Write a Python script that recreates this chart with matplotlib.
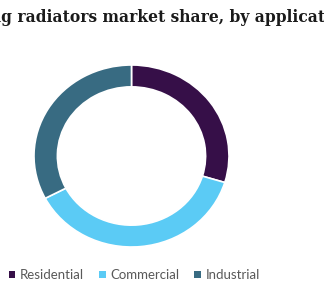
import matplotlib
matplotlib.use("Agg")
import matplotlib.pyplot as plt

# share by application (%)
labels = ["Residential", "Commercial", "Industrial"]
shares = [29.7, 37.6, 32.7]
colors = ["#360F48", "#5BCBF5", "#386B82"]

title = "Heating radiators market share, by application"
title_cut = "Heatin"   # the part that sits left of the visible edge

W, H = 324, 300
fig = plt.figure(figsize=(W / 100, H / 100), dpi=100)
fig.patch.set_facecolor("white")

# ring placement in pixels (reference ring is a touch wider than tall)
cx, cy, rx, ry = 131.5, 156, 97.5, 91
ax = fig.add_axes([(cx - rx) / W, 1 - (cy + ry) / H, 2 * rx / W, 2 * ry / H])
wedges, _ = ax.pie(
    shares,
    colors=colors,
    startangle=90,
    counterclock=False,
    radius=1,
    wedgeprops=dict(width=0.24, edgecolor="white", linewidth=1.2),
)
ax.set_xlim(-1, 1)
ax.set_ylim(-1, 1)
ax.set_aspect("auto")
ax.axis("off")

# title, pushed left so only part of it shows
tsize = 11.2
t = fig.text(0, 1 - 17 / H, title, ha="left", va="center",
             fontsize=tsize, fontweight="bold", family="DejaVu Serif", color="#1a1a1a")
fig.canvas.draw()
rend = fig.canvas.get_renderer()
probe = fig.text(0, 0, title_cut, fontsize=tsize, fontweight="bold", family="DejaVu Serif")
shift = probe.get_window_extent(rend).width
probe.remove()
t.set_x(-(shift - 1) / W)

leg = fig.legend(
    wedges, labels,
    loc="center left",
    bbox_to_anchor=(-3 / W, 1 - 275 / H),
    ncol=3,
    frameon=False,
    handlelength=0.5,
    handleheight=0.5,
    handletextpad=0.35,
    columnspacing=1.12,
    prop=dict(family="Lato", size=9.5),
)
for txt in leg.get_texts():
    txt.set_color("#595959")
for h in leg.legend_handles:
    h.set_edgecolor("none")

fig.savefig("out.png", dpi=100, facecolor="white")
